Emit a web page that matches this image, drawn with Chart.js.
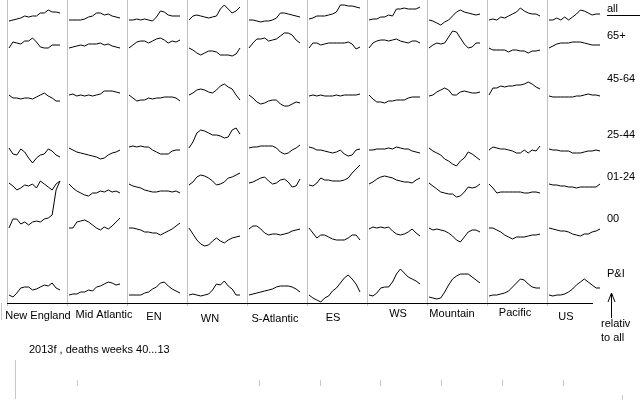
<!DOCTYPE html>
<html>
<head>
<meta charset="utf-8">
<script src="https://cdn.jsdelivr.net/npm/chart.js@4.4.1/dist/chart.umd.min.js"></script>
<style>
  html, body { margin: 0; padding: 0; background: #fff; }
  #wrap { width: 640px; height: 400px; }
</style>
</head>
<body>
<div id="wrap"><canvas id="myChart" width="640" height="400"></canvas></div>
<script>
// regions (columns) and age groups (rows)
const regions = ['New England', 'Mid Atlantic', 'EN', 'WN', 'S-Atlantic', 'ES', 'WS', 'Mountain', 'Pacific', 'US'];
const ageGroups = ['all', '65+', '45-64', '25-44', '01-24', '00', 'P&I'];

// deaths, weeks 40...13, one series per region (relative level)
const allAges = [
  [4, 5, 6, 7, 9, 8, 9, 9, 12, 12, 15, 13, 13, 12],
  [5, 5, 5, 5, 6, 8, 9, 12, 12, 10, 11, 9, 8, 7],
  [5, 5, 6, 5, 6, 5, 4, 8, 14, 13, 10, 9, 9, 9],
  [5, 9, 10, 9, 8, 7, 8, 9, 16, 20, 16, 12, 14, 18],
  [5, 5, 4, 3, 4, 4, 5, 7, 12, 12, 11, 10, 9, 8],
  [6, 7, 9, 9, 9, 10, 11, 13, 20, 20, 19, 19, 18, 17],
  [5, 6, 6, 8, 8, 10, 9, 16, 16, 17, 16, 16, 16, 18],
  [5, 4, 2, 0, 3, 5, 9, 13, 15, 13, 12, 11, 10, 11],
  [5, 6, 5, 8, 7, 9, 11, 13, 17, 14, 12, 11, 11, 9],
  [5, 5, 7, 5, 8, 5, 8, 11, 15, 14, 12, 10, 11, 11]
];
const age65plus = [
  [12, 18, 17, 16, 19, 19, 22, 18, 13, 12, 12, 15, 15, 15],
  [12, 13, 14, 15, 14, 16, 16, 16, 17, 15, 16, 14, 13, 12],
  [12, 15, 18, 19, 19, 17, 19, 21, 22, 20, 17, 19, 18, 20],
  [12, 10, 7, 5, 7, 9, 9, 8, 5, 5, 5, 4, 6, 12],
  [12, 17, 21, 21, 22, 19, 20, 21, 24, 27, 27, 25, 20, 17],
  [12, 17, 17, 15, 16, 17, 17, 17, 17, 17, 18, 16, 11, 13],
  [12, 17, 19, 20, 20, 19, 20, 21, 19, 18, 17, 19, 19, 17],
  [12, 15, 17, 16, 17, 23, 29, 28, 22, 16, 12, 13, 17, 17],
  [12, 10, 10, 10, 10, 8, 10, 10, 9, 9, 7, 9, 9, 10],
  [12, 14, 16, 17, 17, 17, 18, 18, 18, 17, 16, 15, 15, 15]
];
const age45to64 = [
  [15, 12, 12, 11, 12, 12, 11, 13, 15, 17, 14, 12, 9, 9],
  [15, 16, 14, 15, 14, 15, 14, 15, 16, 19, 19, 19, 18, 17],
  [15, 12, 9, 10, 10, 12, 11, 12, 12, 13, 13, 13, 12, 9],
  [15, 17, 20, 21, 20, 18, 17, 20, 24, 26, 23, 21, 15, 10],
  [15, 12, 8, 6, 7, 9, 10, 10, 6, 4, 4, 6, 8, 7],
  [14, 15, 14, 15, 14, 14, 14, 15, 14, 15, 15, 15, 15, 16],
  [15, 11, 8, 8, 7, 9, 9, 10, 10, 10, 12, 13, 13, 13],
  [14, 15, 18, 20, 22, 20, 15, 15, 18, 19, 18, 17, 17, 18],
  [15, 22, 22, 24, 23, 24, 24, 25, 25, 26, 28, 26, 23, 21],
  [14, 13, 13, 13, 13, 13, 13, 14, 14, 15, 16, 15, 15, 14]
];
const age25to44 = [
  [22, 16, 15, 21, 18, 12, 7, 12, 15, 16, 21, 19, 15, 13],
  [22, 20, 18, 17, 16, 15, 14, 13, 11, 12, 15, 17, 18, 20],
  [23, 24, 23, 24, 23, 23, 20, 18, 16, 16, 16, 19, 20, 20],
  [22, 28, 37, 40, 39, 37, 35, 35, 34, 32, 33, 40, 42, 36],
  [22, 23, 23, 24, 24, 24, 24, 22, 18, 16, 17, 20, 22, 25],
  [23, 22, 20, 20, 19, 18, 17, 18, 20, 16, 14, 15, 20, 21],
  [20, 20, 21, 21, 21, 22, 21, 23, 22, 21, 21, 19, 18, 17],
  [22, 19, 17, 15, 11, 9, 6, 4, 9, 12, 18, 16, 13, 10],
  [20, 23, 22, 21, 21, 20, 19, 17, 17, 20, 17, 20, 19, 24],
  [21, 20, 20, 19, 19, 19, 17, 17, 17, 18, 19, 19, 20, 19]
];
const age01to24 = [
  [17, 14, 10, 12, 15, 14, 16, 12, 19, 16, 13, 10, 16, 19],
  [16, 12, 9, 7, 5, 4, 7, 7, 9, 8, 10, 8, 9, 7],
  [16, 14, 13, 12, 10, 9, 8, 8, 9, 9, 9, 8, 9, 7],
  [15, 18, 23, 25, 24, 22, 19, 15, 16, 18, 22, 23, 25, 27],
  [17, 18, 20, 22, 23, 19, 16, 17, 20, 21, 18, 13, 14, 21],
  [15, 14, 17, 22, 20, 20, 19, 19, 19, 20, 22, 27, 31, 35],
  [16, 18, 21, 23, 24, 23, 22, 20, 19, 18, 18, 17, 20, 22],
  [17, 14, 11, 8, 7, 6, 6, 3, 4, 8, 13, 12, 13, 16],
  [16, 12, 7, 8, 8, 8, 8, 8, 8, 7, 7, 8, 8, 7],
  [16, 15, 15, 14, 14, 13, 13, 12, 13, 13, 13, 13, 13, 16]
];
const age00 = [
  [22, 31, 31, 26, 28, 25, 28, 29, 28, 31, 32, 35, 60, 69],
  [22, 22, 28, 29, 30, 28, 25, 22, 20, 23, 21, 24, 28, 32],
  [22, 22, 21, 20, 18, 18, 17, 17, 15, 17, 19, 21, 24, 27],
  [22, 16, 10, 6, 4, 5, 9, 12, 9, 7, 10, 12, 13, 14],
  [21, 24, 24, 21, 17, 15, 16, 16, 15, 16, 17, 19, 20, 21],
  [22, 17, 12, 15, 15, 13, 11, 10, 10, 10, 12, 15, 15, 10],
  [21, 23, 22, 23, 22, 23, 19, 16, 15, 16, 18, 21, 17, 14],
  [22, 20, 21, 20, 19, 17, 14, 10, 8, 13, 18, 20, 20, 18],
  [22, 22, 20, 18, 15, 13, 11, 13, 13, 13, 14, 15, 15, 16],
  [22, 21, 20, 19, 19, 18, 16, 15, 14, 16, 16, 18, 19, 21]
];
const pAndI = [
  [10, 8, 12, 17, 18, 18, 15, 16, 18, 20, 19, 22, 17, 15],
  [10, 11, 11, 13, 13, 15, 14, 18, 19, 21, 23, 22, 20, 21],
  [10, 10, 10, 10, 12, 13, 16, 18, 22, 23, 19, 16, 14, 12],
  [10, 11, 10, 9, 10, 11, 15, 21, 20, 24, 19, 16, 10, 10],
  [10, 11, 12, 13, 14, 15, 16, 18, 19, 19, 19, 18, 16, 13],
  [10, 7, 5, 3, 7, 9, 14, 17, 22, 27, 30, 26, 21, 13],
  [10, 9, 12, 17, 18, 18, 23, 31, 36, 32, 28, 26, 24, 21],
  [8, 7, 6, 7, 13, 20, 26, 29, 31, 31, 31, 28, 25, 22],
  [9, 10, 10, 11, 12, 14, 18, 22, 26, 25, 21, 18, 17, 17],
  [10, 9, 10, 10, 11, 13, 16, 20, 23, 26, 23, 20, 17, 17]
];

// layout of the small multiples (pixel units of the 640x306 plot area)
const panelLeft = 7, panelWidth = 60, lineInset = 2, lineSpan = 51;
const rowBase = [25, 60, 110, 170, 200, 250, 305];
const labelX = [38, 104, 154, 210, 275, 333, 398, 452, 515, 566];
const labelY = [316, 315, 317, 318.5, 319, 318, 313.5, 313.5, 313, 316.5];
const rowLabelY = [8.5, 36, 78.5, 134.5, 177, 218.5, 274];

const rows = [allAges, age65plus, age45to64, age25to44, age01to24, age00, pAndI];
const datasets = [];
rows.forEach((row, r) => {
    row.forEach((series, c) => {
        datasets.push({
            label: regions[c] + ' ' + ageGroups[r],
            data: series.map((v, i) => ({
                x: panelLeft + c * panelWidth + lineInset + i * lineSpan / (series.length - 1),
                y: rowBase[r] - v
            })),
            borderColor: '#000',
            borderWidth: 1,
            pointRadius: 0,
            tension: 0,
            fill: false
        });
    });
});

// axis line, labels and notes around the panels
const decor = {
    id: 'decor',
    afterDraw(chart) {
        const ctx = chart.ctx;
        ctx.save();
        ctx.strokeStyle = '#000';
        ctx.lineWidth = 1;
        ctx.beginPath();
        ctx.moveTo(7, 303.5); ctx.lineTo(593, 303.5);
        // underline of "all"
        ctx.moveTo(607, 15.5); ctx.lineTo(640, 15.5);
        // arrow "relative to all"
        ctx.moveTo(611.5, 318); ctx.lineTo(611.5, 293);
        ctx.moveTo(608, 302); ctx.lineTo(611.5, 293); ctx.lineTo(615, 302);
        ctx.stroke();

        // faint stray ticks at the bottom
        ctx.strokeStyle = '#c8c8c8';
        ctx.beginPath();
        ctx.moveTo(1.5, 303); ctx.lineTo(1.5, 320);
        ctx.moveTo(15.5, 360); ctx.lineTo(15.5, 399);
        [77, 259, 320, 380, 441, 502, 563].forEach(x => {
            ctx.moveTo(x + 0.5, 380); ctx.lineTo(x + 0.5, 386);
        });
        ctx.moveTo(622.5, 395); ctx.lineTo(622.5, 400);
        ctx.stroke();

        ctx.fillStyle = '#000';
        ctx.font = "11px 'Liberation Sans', Arial, sans-serif";
        ctx.textBaseline = 'middle';
        ctx.textAlign = 'center';
        regions.forEach((name, c) => ctx.fillText(name, labelX[c], labelY[c]));

        ctx.textAlign = 'left';
        ageGroups.forEach((g, r) => ctx.fillText(g, 607, rowLabelY[r]));
        ctx.fillText('relativ', 601, 324);
        ctx.fillText('to all', 601, 338);
        ctx.fillText('2013f , deaths weeks 40...13', 29, 350);
        ctx.restore();
    }
};

const ctx = document.getElementById('myChart').getContext('2d');
new Chart(ctx, {
    type: 'line',
    data: { datasets: datasets },
    options: {
        responsive: false,
        animation: false,
        layout: { padding: { left: 0, right: 0, top: 0, bottom: 94 } },
        scales: {
            x: {
                type: 'linear',
                min: 0,
                max: 640,
                afterBuildTicks: s => {
                    s.ticks = regions.map((_, c) => ({ value: panelLeft + c * panelWidth }));
                },
                afterFit: s => { s.height = 0; },
                ticks: { display: false, autoSkip: false },
                grid: { color: '#c0c0c0', lineWidth: 1, drawTicks: false },
                border: { display: false }
            },
            y: {
                type: 'linear',
                min: 0,
                max: 306,
                reverse: true,
                display: false
            }
        },
        plugins: {
            legend: { display: false },
            tooltip: { enabled: false }
        }
    },
    plugins: [decor]
});
</script>
</body>
</html>
